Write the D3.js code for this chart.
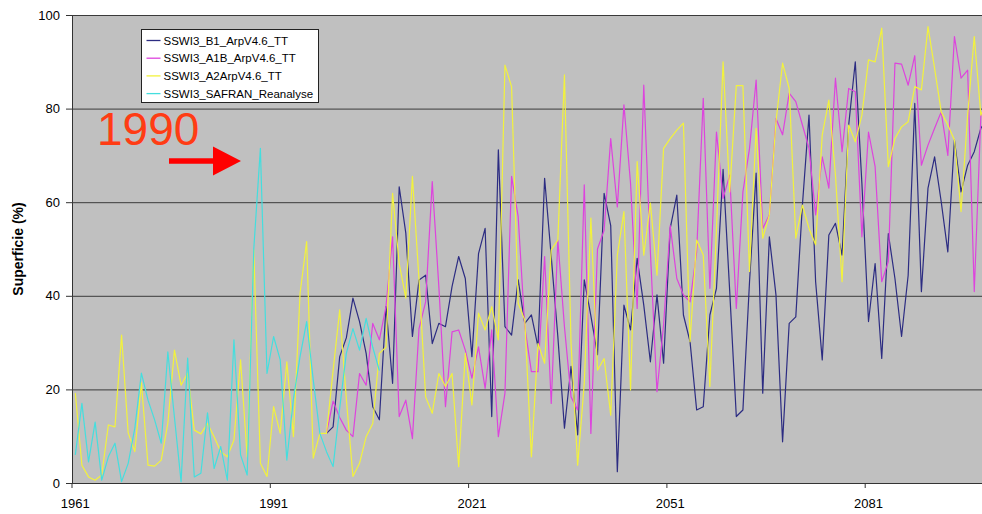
<!DOCTYPE html>
<html>
<head>
<meta charset="utf-8">
<script src="https://cdn.jsdelivr.net/npm/d3@7"></script>
<style>
  body { margin: 0; background: #fff; }
  svg { display: block; font-family: Arial, "Liberation Sans", sans-serif; }
</style>
</head>
<body>
<div id="chart"></div>
<script>
// years on the category axis
const years = d3.range(1961, 2101);
const xTickYears = [1961, 1991, 2021, 2051, 2081];
const yTicks = [0, 20, 40, 60, 80, 100];

// SSWI3_SAFRAN_Reanalyse, 1961 -> 2007
const safran = [6, 17, 4.5, 13, 0.6, 5.6, 8.5, 0.3, 4.2, 11.7,
  23.5, 17.7, 13.5, 8.5, 28, 14, 0.3, 26.7, 1.3, 2.1,
  15, 3.1, 7.8, 0.6, 30.6, 6, 1.7, 50, 71.5, 23.4,
  31.3, 26.3, 4.9, 18, 27, 34.5, 22, 10.6, 6.7, 3.5,
  16, 27.7, 33, 28.4, 35.2, 29, 24];

// SSWI3_A2ArpV4.6_TT, 1961 -> 2100
const a2 = [19.2, 3.8, 1.3, 0.6, 1.7, 12.4, 12, 31.6, 10.7, 6.7,
  21.4, 3.8, 3.6, 4.9, 12.8, 28.4, 20.9, 23.5, 11.3, 10.5,
  12.7, 9.9, 6.7, 5.6, 9.2, 26.3, 5.6, 49.8, 4.2, 1.4,
  16.3, 10.6, 25.9, 9.9, 40.5, 51.6, 5.3, 10.6, 10.6, 24,
  37, 18, 1.4, 4.2, 9.9, 12.7, 27.7, 29, 61.9, 46.9,
  39.5, 65.5, 43.4, 18.4, 14.9, 23.4, 20.6, 23.4, 3.5, 27.7,
  16.7, 36.3, 32.7, 37.7, 30.6, 89.3, 84.7, 38.4, 34.8, 5.6,
  29.8, 25.6, 49.8, 51.9, 87.2, 29.8, 3.8, 21.3, 56.6, 24.1,
  26.6, 14.5, 48.7, 58, 19.9, 68.7, 48.7, 59.8, 44.4, 71.5,
  73.6, 75.4, 76.9, 30.2, 51.9, 48.7, 20.6, 54.4, 90, 62.2,
  84.9, 84.9, 45.2, 75.8, 52.3, 57.3, 77.2, 89.7, 84.3, 52.3,
  59.4, 54.4, 50.9, 74.4, 81.8, 65.8, 43, 76.5, 72.9, 78.6,
  90.4, 90, 97.2, 67.6, 73.6, 76.1, 77.2, 84.7, 84, 97.5,
  88.6, 79.3, 76.5, 73.3, 58, 78.6, 95.4, 78.6, 82, 80];

// SSWI3_B1_ArpV4.6_TT, 1999 -> 2100
const b1 = [10.6, 12, 27, 31, 39.5, 34.5, 27.7, 16.3, 13.5, 37.7,
  21.3, 63.3, 53.4, 31.3, 43.4, 44.4, 29.8, 34.1, 33.4, 42,
  48.4, 43.7, 27, 49, 54.4, 14.2, 71.2, 33.4, 31.6, 43.4,
  34.1, 35.9, 29.1, 65.1, 48.4, 31.3, 11.7, 24.9, 10.3, 43.4,
  35.7, 27.4, 61.9, 55, 2.4, 38, 32.7, 48, 38, 25.9,
  40.2, 25.6, 54.4, 61.5, 35.9, 30.2, 15.6, 16.3, 35.9, 41.6,
  67, 41, 14.2, 15.6, 43, 66.2, 19.2, 52.6, 40.2, 8.8,
  34.1, 35.5, 59.4, 78.6, 43, 26.3, 53, 55.5, 48.7, 76.5,
  90, 64, 34.5, 46.9, 26.6, 53.3, 43.7, 31.3, 44.4, 81.1,
  40.9, 63, 69.7, 60.1, 49.4, 73.3, 62.2, 67.9, 70.8, 75.8,
  78, 72];

// SSWI3_A1B_ArpV4.6_TT, 1999 -> 2100
const a1b = [10.6, 17.5, 14, 11.3, 9.9, 23.4, 20.9, 34.1, 30.6, 37.7,
  52.6, 14.2, 17.7, 9.5, 33, 38.7, 64.4, 41.9, 16.3, 32.3,
  32.7, 28.4, 22.4, 29.1, 20.2, 32.7, 9.9, 19.2, 65.5, 56.9,
  33.4, 23.8, 23.8, 48.4, 17, 51.9, 33.4, 18.4, 15.6, 63.7,
  10.6, 50, 54, 73.6, 59, 80.8, 64, 37.3, 85, 49.4,
  19.5, 33.8, 55, 43.7, 40.2, 38.7, 49.4, 82.2, 41.6, 75,
  60.8, 65.8, 37.3, 62.2, 71.5, 86.1, 54.4, 57.3, 77.9, 74.4,
  83.3, 81.5, 76.5, 71.5, 57.3, 69.7, 63, 86.5, 70.8, 84.3,
  83.6, 52.6, 75, 67.6, 43, 47.3, 89.7, 89.5, 85, 91.3,
  67.9, 72.2, 75.8, 79.3, 70, 95.4, 86.5, 88.2, 40.9, 78.6,
  80, 75];

const seriesNames = ["SSWI3_B1_ArpV4.6_TT", "SSWI3_A1B_ArpV4.6_TT", "SSWI3_A2ArpV4.6_TT", "SSWI3_SAFRAN_Reanalyse"];
const seriesStart = [1999, 1999, 1961, 1961];
const seriesValues = [b1, a1b, a2, safran];
const seriesColors = ["#2c2c82", "#dd44dd", "#f2f23c", "#44dede"];

const width = 982, height = 514;
const marginLeft = 72, marginTop = 15, plotBottom = 483;
const step = 6.61; // px per year, the picture is cut on the right

const svg = d3.select("#chart").append("svg")
  .attr("width", width).attr("height", height);

const x = d3.scaleBand().domain(years).range([marginLeft, marginLeft + step * years.length]).padding(0);
const xc = (yr) => x(yr) + x.bandwidth() / 2;
const y = d3.scaleLinear().domain([0, 100]).range([plotBottom, marginTop]);

svg.append("defs").append("clipPath").attr("id", "clip")
  .append("rect").attr("x", marginLeft).attr("y", marginTop - 2)
  .attr("width", width - marginLeft).attr("height", plotBottom - marginTop + 4);

// plot background
svg.append("rect")
  .attr("x", marginLeft).attr("y", marginTop)
  .attr("width", width - marginLeft).attr("height", plotBottom - marginTop)
  .attr("fill", "#c0c0c0");

// y axis + grid
svg.append("g")
  .attr("transform", `translate(${marginLeft},0)`)
  .call(d3.axisLeft(y).tickValues(yTicks).tickSize(6).tickPadding(6).tickSizeOuter(0))
  .call((g) => g.select(".domain").attr("stroke", "#333"))
  .call((g) => g.selectAll(".tick line").attr("stroke", "#333"))
  .call((g) => g.selectAll(".tick text").attr("font-size", 13).attr("fill", "#000")
    .attr("font-family", "Arial, 'Liberation Sans', sans-serif"))
  .call((g) => g.selectAll(".tick").filter((d) => d > 0).append("line")
    .attr("x2", width - marginLeft).attr("stroke", "#3a3a3a").attr("stroke-width", 1));

svg.append("text")
  .attr("transform", `translate(23,${(marginTop + plotBottom) / 2}) rotate(-90)`)
  .attr("text-anchor", "middle")
  .attr("font-size", 14).attr("font-weight", "bold")
  .text("Superficie (%)");

// x axis
const xAxis = svg.append("g")
  .attr("transform", `translate(0,${plotBottom})`)
  .call(d3.axisBottom(x).tickValues(xTickYears).tickSize(5).tickPadding(11).tickSizeOuter(0));
xAxis.select(".domain").attr("stroke", "#333").attr("d", `M${marginLeft},0.5H${width}`);
xAxis.selectAll(".tick line").attr("stroke", "#333")
  .attr("x1", -x.bandwidth() / 2).attr("x2", -x.bandwidth() / 2);
xAxis.selectAll(".tick text").attr("font-size", 13).attr("fill", "#000")
  .attr("font-family", "Arial, 'Liberation Sans', sans-serif");

// series
const line = d3.line()
  .defined((d) => d.v != null)
  .x((d) => xc(d.year))
  .y((d) => y(d.v));

const lines = svg.append("g").attr("clip-path", "url(#clip)");
seriesValues.forEach((vals, k) => {
  const pts = vals.map((v, i) => ({ year: seriesStart[k] + i, v }));
  lines.append("path")
    .datum(pts)
    .attr("fill", "none")
    .attr("stroke", seriesColors[k])
    .attr("stroke-width", 1.2)
    .attr("stroke-linejoin", "round")
    .attr("d", line);
});

// legend
const legend = svg.append("g").attr("transform", "translate(141.5,29.5)");
legend.append("rect").attr("width", 177).attr("height", 73)
  .attr("fill", "#fff").attr("stroke", "#222").attr("stroke-width", 1);
seriesNames.forEach((name, k) => {
  const gy = 11 + k * 17.7;
  legend.append("line").attr("x1", 5).attr("x2", 19).attr("y1", gy).attr("y2", gy)
    .attr("stroke", seriesColors[k]).attr("stroke-width", 1.3);
  legend.append("text").attr("x", 22).attr("y", gy + 4)
    .attr("font-size", 11.5).attr("fill", "#000").text(name);
});

// "1990" annotation with red arrow
svg.append("text")
  .attr("x", 97).attr("y", 145)
  .attr("font-size", 46).attr("fill", "#ff3c14")
  .text("1990");
svg.append("path")
  .attr("d", "M169,158.2H213V146.5L241,161L213,175.5V163.8H169Z")
  .attr("fill", "#ff0000");
</script>
</body>
</html>
